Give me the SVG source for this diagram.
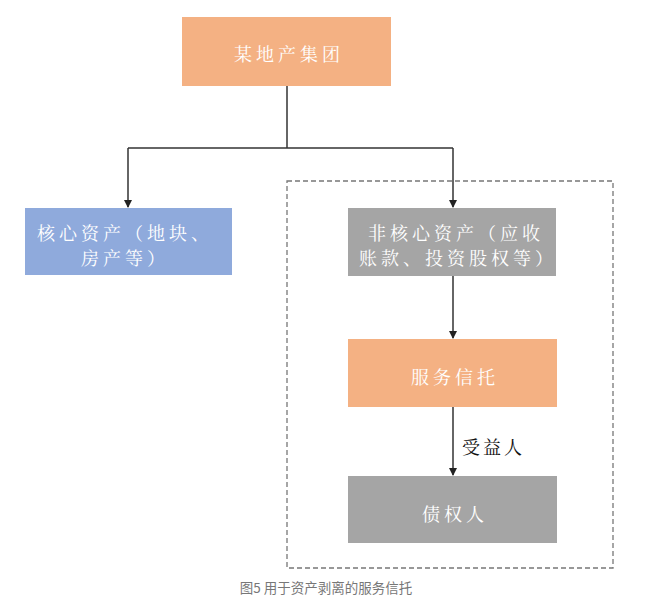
<svg xmlns="http://www.w3.org/2000/svg" width="650" height="603" viewBox="0 0 650 603">
<defs>
<marker id="ah" markerWidth="8" markerHeight="8" refX="7" refY="4" orient="auto" markerUnits="userSpaceOnUse">
<path d="M0,0 L8,4 L0,8 Z" fill="#222"/>
</marker>
<style>
.box-t{font-family:"Noto Serif CJK SC","Noto Sans CJK SC",sans-serif;font-size:18px;fill:#fff;letter-spacing:4px;text-anchor:middle;dominant-baseline:central}
.conn{stroke:#333;stroke-width:1.5;fill:none}
.lbl{font-family:"Noto Serif CJK SC","Noto Sans CJK SC",serif;font-size:18px;fill:#111;letter-spacing:3px;dominant-baseline:central}
.cap{font-family:"Noto Sans CJK SC",sans-serif;font-size:13.5px;fill:#777;text-anchor:middle;dominant-baseline:central}
</style>
</defs>
<rect width="650" height="603" fill="#fff"/>
<rect x="287" y="181" width="326" height="387" fill="none" stroke="#777" stroke-width="1.3" stroke-dasharray="5 3"/>
<g id="connectors">
<path class="conn" d="M287,86 V148"/>
<path class="conn" d="M128,148 H453"/>
<path class="conn" d="M128,148 V207" marker-end="url(#ah)"/>
<path class="conn" d="M453,148 V207" marker-end="url(#ah)"/>
<path class="conn" d="M453,276 V338" marker-end="url(#ah)"/>
<path class="conn" d="M453,407 V475" marker-end="url(#ah)"/>
<text class="lbl" x="462" y="446">受益人</text>
</g>
<g id="group">
<rect x="182" y="17" width="209" height="69" fill="#F4B183"/>
<text class="box-t" x="289" y="53">某地产集团</text>
</g>
<g id="core">
<rect x="25" y="208" width="207" height="67" fill="#8FAADC"/>
<text class="box-t" x="125" y="232">核心资产（地块、</text>
<text class="box-t" x="125" y="257">房产等）</text>
</g>
<g id="noncore">
<rect x="348" y="208" width="208" height="68" fill="#A5A5A5"/>
<text class="box-t" x="456" y="232">非核心资产（应收</text>
<text class="box-t" x="458" y="257">账款、投资股权等）</text>
</g>
<g id="trust">
<rect x="348" y="339" width="209" height="68" fill="#F4B183"/>
<text class="box-t" x="455" y="376">服务信托</text>
</g>
<g id="creditor">
<rect x="348" y="476" width="209" height="67" fill="#A5A5A5"/>
<text class="box-t" x="455" y="513">债权人</text>
</g>
<text class="cap" x="326" y="587">图5 用于资产剥离的服务信托</text>
</svg>
